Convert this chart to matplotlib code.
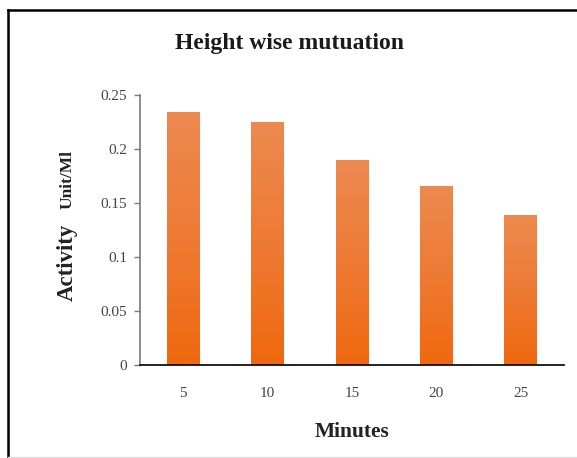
import matplotlib
matplotlib.use("Agg")
import matplotlib.pyplot as plt
import numpy as np
from matplotlib.colors import LinearSegmentedColormap
from matplotlib.lines import Line2D

minutes = ["5", "10", "15", "20", "25"]
activity = [0.234, 0.225, 0.190, 0.166, 0.139]
yticks = [0, 0.05, 0.1, 0.15, 0.2, 0.25]
ytick_labels = ["0", "0.05", "0.1", "0.15", "0.2", "0.25"]

plt.rcParams['font.family'] = ['Liberation Serif', 'DejaVu Serif']

fig = plt.figure(figsize=(5.77, 4.58), dpi=100)
fig.patch.set_facecolor("white")
ax = fig.add_axes([0.2426, 0.2031, 0.7349, 0.5895])

x = np.arange(len(minutes))
bars = ax.bar(x, activity, width=0.39, color="#EF7A30", edgecolor="none", zorder=2)

cmap = LinearSegmentedColormap.from_list("og", ["#F0680E", "#EE7A34", "#EC8A50"])
grad = np.linspace(0, 1, 256).reshape(-1, 1)
for b in bars:
    x0, y0 = b.get_x(), b.get_y()
    w, h = b.get_width(), b.get_height()
    im = ax.imshow(grad, cmap=cmap, origin="lower", aspect="auto",
                   extent=[x0, x0 + w, y0, y0 + h], zorder=3)
    im.set_clip_path(b)

ax.set_xlim(-0.51, 4.51)
ax.set_ylim(0, 0.25)
ax.set_yticks(yticks)
ax.set_yticklabels(ytick_labels)
ax.set_xticks(x)
ax.set_xticklabels(minutes)

for s in ["top", "right"]:
    ax.spines[s].set_visible(False)
ax.spines["left"].set_color("#7a7a7a")
ax.spines["left"].set_linewidth(1.2)
ax.spines["bottom"].set_color("#111111")
ax.spines["bottom"].set_linewidth(1.3)
ax.spines["bottom"].set_zorder(5)

ax.tick_params(axis="y", direction="out", length=4, width=1, color="#7a7a7a",
               labelsize=11, labelcolor="#444444", pad=5)
ax.tick_params(axis="x", length=0, labelsize=11, labelcolor="#444444", pad=16)

fig.text(0.5009, 0.905, "Height wise mutuation", ha="center", va="center",
         fontsize=17, fontweight="bold", color="#1a1a1a")
fig.text(0.610, 0.057, "Minutes", ha="center", va="center",
         fontsize=15.5, fontweight="bold", color="#222222")

fig.text(0.116, 0.428, "Activity", rotation=90, ha="center", va="center",
         fontsize=16.5, fontweight="bold", color="#222222")
fig.text(0.117, 0.607, "Unit/Ml", rotation=90, ha="center", va="center",
         fontsize=12.5, fontweight="bold", color="#222222")

# outer frame (left and top dark, bottom light)
fig.add_artist(Line2D([0.0147, 0.0147], [0.0, 0.978], transform=fig.transFigure,
                      color="black", linewidth=1.8))
fig.add_artist(Line2D([0.0147, 1.0], [0.978, 0.978], transform=fig.transFigure,
                      color="black", linewidth=1.8))
fig.add_artist(Line2D([0.0147, 1.0], [0.003, 0.003], transform=fig.transFigure,
                      color="#dddddd", linewidth=1.0))

fig.savefig("out.png", dpi=100, facecolor="white")
